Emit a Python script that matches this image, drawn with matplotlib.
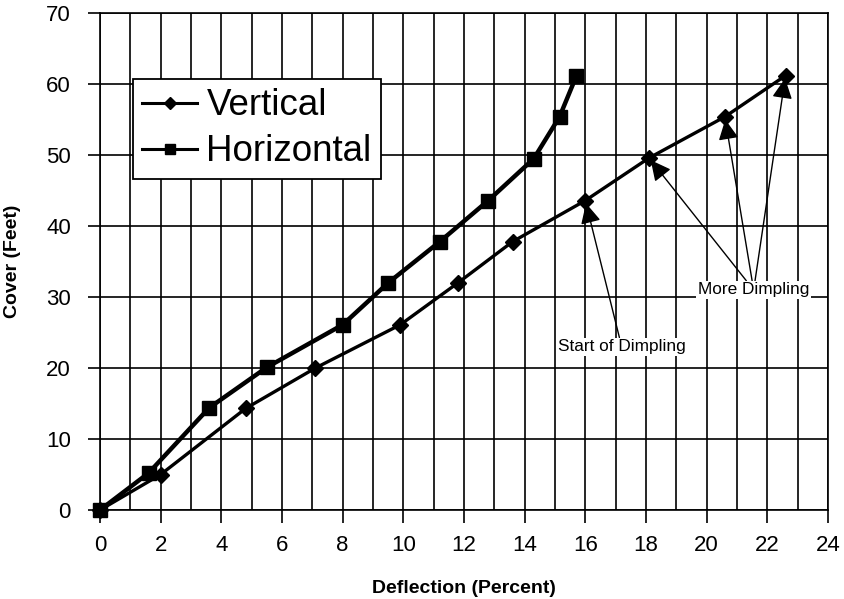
import matplotlib.pyplot as plt
import numpy as np

plt.rcParams['font.family'] = ['Liberation Sans', 'DejaVu Sans']

# Deflection (%) vs. cover (ft)
vert_x = [0, 2.0, 4.8, 7.1, 9.9, 11.8, 13.6, 16.0, 18.1, 20.6, 22.6]
vert_y = [0, 5.0, 14.3, 20.0, 26.1, 32.0, 37.8, 43.6, 49.6, 55.4, 61.2]
horiz_x = [0, 1.6, 3.6, 5.5, 8.0, 9.5, 11.2, 12.8, 14.3, 15.15, 15.7]
horiz_y = [0, 5.2, 14.4, 20.1, 26.1, 32.0, 37.8, 43.6, 49.5, 55.4, 61.1]

fig = plt.figure(figsize=(8.44, 5.99), dpi=100)
ax = fig.add_axes([0.1185, 0.1486, 0.8625, 0.8294])

ax.plot(vert_x, vert_y, color='black', lw=2.4, marker='D', ms=8.5,
        label='Vertical', clip_on=False, zorder=3)
ax.plot(horiz_x, horiz_y, color='black', lw=3.2, marker='s', ms=10,
        label='Horizontal', clip_on=False, zorder=3)

ax.set_xlim(0, 24)
ax.set_ylim(0, 70)
ax.set_xticks(np.arange(0, 25, 2))
ax.set_xticks(np.arange(1, 24, 2), minor=True)
ax.set_yticks(np.arange(0, 71, 10))
ax.grid(True, which='both', color='black', lw=1.2)
ax.tick_params(which='major', length=9, width=1.2, labelsize=16)
ax.tick_params(axis='x', pad=9)
ax.tick_params(axis='y', pad=12)
ax.tick_params(which='minor', length=0)
for s in ax.spines.values():
    s.set_linewidth(1.2)

ax.set_xlabel('Deflection (Percent)', fontsize=14, fontweight='bold', labelpad=17)
ax.set_ylabel('Cover (Feet)', fontsize=14, fontweight='bold', labelpad=18)

leg = ax.legend(loc='upper left', bbox_to_anchor=(0.045, 0.867), fontsize=26.5,
                frameon=True, fancybox=False, edgecolor='black',
                handlelength=1.5, handletextpad=0.25, borderpad=0.25,
                labelspacing=0.3, borderaxespad=0, markerscale=0.75)
leg.get_frame().set_linewidth(1.3)
leg.get_frame().set_alpha(1)
for h in leg.legend_handles:
    h.set_linewidth(2.2)

arrow = dict(arrowstyle='-|>,head_length=1.0,head_width=0.5', color='black',
             lw=1.0, shrinkA=0, shrinkB=2)
ax.annotate('Start of Dimpling', xy=(vert_x[7], vert_y[7]), xytext=(17.2, 23.0),
            ha='center', va='center', fontsize=12.4, arrowprops=arrow,
            bbox=dict(boxstyle='square,pad=0.1', fc='white', ec='none'))
for i in (8, 9, 10):
    ax.annotate('More Dimpling', xy=(vert_x[i], vert_y[i]), xytext=(21.55, 31.0),
                ha='center', va='center', fontsize=12.4, arrowprops=arrow,
                bbox=dict(boxstyle='square,pad=0.1', fc='white', ec='none'))

fig.savefig('out.png', dpi=100)
